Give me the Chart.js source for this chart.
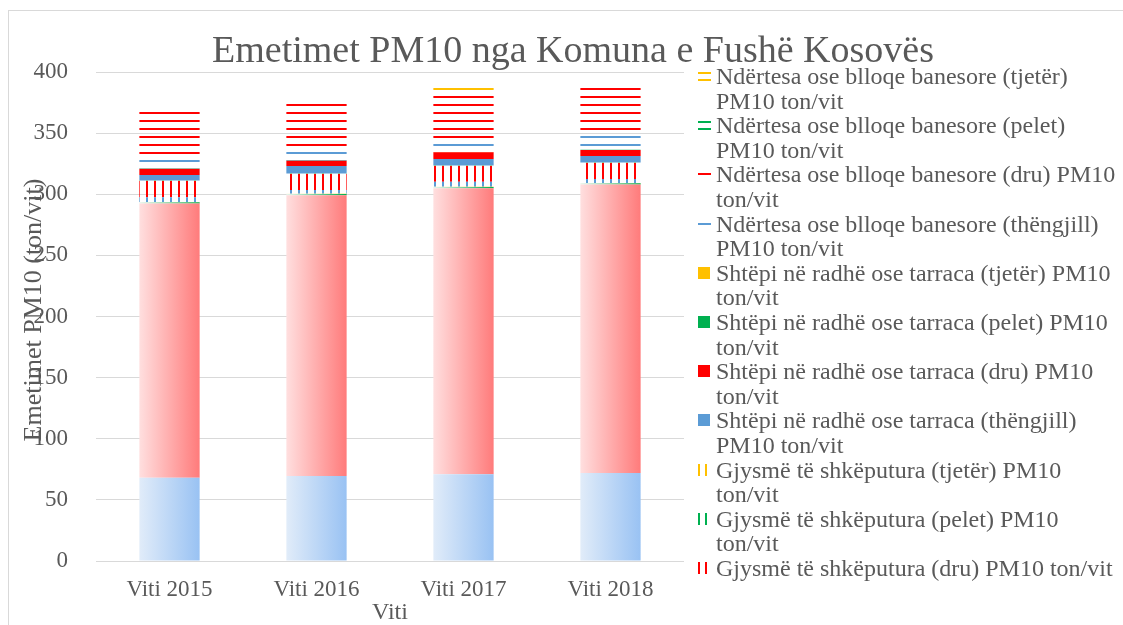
<!DOCTYPE html>
<html>
<head>
<meta charset="utf-8">
<script src="https://cdn.jsdelivr.net/npm/chart.js@4.4.0/dist/chart.umd.min.js"></script>
<style>
  html, body { margin: 0; padding: 0; background: #fff; }
  #wrap { position: relative; width: 1123px; height: 625px; overflow: hidden;
          font-family: "Liberation Serif", "Times New Roman", serif; color: #595959; }
  #frame { position: absolute; left: 8px; top: 10px; width: 1300px; height: 800px;
           border-left: 1px solid #d9d9d9; border-top: 1px solid #d9d9d9; }
  #c { position: absolute; left: 0; top: 0; }
  #legend { position: absolute; left: 697px; top: 64px; width: 421px;
            font-size: 24px; line-height: 24.6px; }
  .item { position: relative; padding-left: 19px; }
  .sw { position: absolute; left: 0; top: 5px; }
</style>
</head>
<body>
<div id="wrap">
  <div id="frame"></div>
  <canvas id="c" width="1123" height="625"></canvas>
  <div id="legend"></div>
</div>
<script>
/* Emetimet PM10 – Fushë Kosovë, shtylla të grumbulluara */

const labels = ['Viti 2015', 'Viti 2016', 'Viti 2017', 'Viti 2018'];

// Shtëpi të shkëputura
const shkThengjill = [68, 69.5, 71, 72];
const shkDru       = [224.4, 229.7, 233.9, 235.9];
const shkPelet     = [1, 1, 1, 1];
const shkTjeter    = [0.3, 0.3, 0.3, 0.3];
// Gjysmë të shkëputura
const gjThengjill  = [3.8, 3.0, 4.1, 3.3];
const gjDru        = [13.3, 13.1, 12.8, 13.1];
const gjPelet      = [0.2, 0.2, 0.2, 0.2];
const gjTjeter     = [0.2, 0.2, 0.2, 0.2];
// Shtëpi në radhë ose tarraca
const rdThengjill  = [4.5, 6.1, 5.3, 5.3];
const rdDru        = [4.9, 4.4, 5.5, 4.9];
const rdPelet      = [0.1, 0.1, 0.1, 0.1];
const rdTjeter     = [0.1, 0.1, 0.1, 0.1];
// Ndërtesa ose blloqe banesore
const ndThengjill  = [9.7, 9.3, 9.1, 13.7];
const ndPelet      = [0.3, 0.3, 0.3, 0.3];
const ndDru        = [37.3, 37.4, 39.1, 37.1];
const ndTjeter     = [3.5, 3.5, 4.5, 3.5];

const TXT  = '#595959';
const GRID = '#d9d9d9';
const FONT = '"Liberation Serif", "Times New Roman", serif';
const BLUE = '#5b9bd5', RED = '#ff0000', GREEN = '#00b050', ORANGE = '#ffc000';
const BAR_PCT = 0.41;

/* ── pattern tiles (aligned to canvas origin) ── */
function tile(color, dir) {
  const t = document.createElement('canvas');
  t.width = 8; t.height = 8;
  const g = t.getContext('2d');
  g.fillStyle = color;
  if (dir === 'h') g.fillRect(0, 0, 8, 2);
  else g.fillRect(2, 0, 2, 8);
  return g.createPattern(t, 'repeat');
}

/* ── horizontal gradient across each bar ── */
function hGrad(c0, c1) {
  return ctx => {
    const chart = ctx.chart;
    const xs = chart.scales.x;
    if (!xs || !chart.chartArea || ctx.type !== 'data') return c1;
    const cx = xs.getPixelForValue(ctx.dataIndex);
    const w = xs.width / labels.length * BAR_PCT;
    const g = chart.ctx.createLinearGradient(cx - w / 2, 0, cx + w / 2, 0);
    g.addColorStop(0, c0);
    g.addColorStop(1, c1);
    return g;
  };
}

const ds = (label, data, bg, sw) => ({ label, data, backgroundColor: bg, borderWidth: 0, sw });

const datasets = [
  ds('Shtëpi të shkëputura (thëngjill) PM10 ton/vit', shkThengjill, hGrad('#e1ecf9', '#99c2f3'), { k: 's', c: BLUE }),
  ds('Shtëpi të shkëputura (dru) PM10 ton/vit',       shkDru,       hGrad('#ffdfdf', '#ff7b7b'), { k: 's', c: RED }),
  ds('Shtëpi të shkëputura (pelet) PM10 ton/vit',     shkPelet,     hGrad('#e6f5ec', '#00b050'), { k: 's', c: GREEN }),
  ds('Shtëpi të shkëputura (tjetër) PM10 ton/vit',    shkTjeter,    hGrad('#fff3d0', '#ffc000'), { k: 's', c: ORANGE }),
  ds('Gjysmë të shkëputura (thëngjill) PM10 ton/vit', gjThengjill,  tile(BLUE, 'v'),   { k: 'v', c: BLUE }),
  ds('Gjysmë të shkëputura (dru) PM10 ton/vit',       gjDru,        tile(RED, 'v'),    { k: 'v', c: RED }),
  ds('Gjysmë të shkëputura (pelet) PM10 ton/vit',     gjPelet,      tile(GREEN, 'v'),  { k: 'v', c: GREEN }),
  ds('Gjysmë të shkëputura (tjetër) PM10 ton/vit',    gjTjeter,     tile(ORANGE, 'v'), { k: 'v', c: ORANGE }),
  ds('Shtëpi në radhë ose tarraca (thëngjill) PM10 ton/vit', rdThengjill, BLUE,   { k: 's', c: BLUE }),
  ds('Shtëpi në radhë ose tarraca (dru) PM10 ton/vit',       rdDru,       RED,    { k: 's', c: RED }),
  ds('Shtëpi në radhë ose tarraca (pelet) PM10 ton/vit',     rdPelet,     GREEN,  { k: 's', c: GREEN }),
  ds('Shtëpi në radhë ose tarraca (tjetër) PM10 ton/vit',    rdTjeter,    ORANGE, { k: 's', c: ORANGE }),
  ds('Ndërtesa ose blloqe banesore (thëngjill) PM10 ton/vit', ndThengjill, tile(BLUE, 'h'),   { k: 'h', c: BLUE, n: 1 }),
  ds('Ndërtesa ose blloqe banesore (dru) PM10 ton/vit',       ndDru,       tile(RED, 'h'),    { k: 'h', c: RED, n: 1 }),
  ds('Ndërtesa ose blloqe banesore (pelet) PM10 ton/vit',     ndPelet,     tile(GREEN, 'h'),  { k: 'h', c: GREEN, n: 2 }),
  ds('Ndërtesa ose blloqe banesore (tjetër) PM10 ton/vit',    ndTjeter,    tile(ORANGE, 'h'), { k: 'h', c: ORANGE, n: 2 }),
];

/* titles drawn straight on the canvas (Excel lets them overlap ticks/legend) */
const titlesPlugin = {
  id: 'titles',
  afterDraw(chart) {
    const { ctx } = chart;
    ctx.save();
    ctx.fillStyle = TXT;
    ctx.textAlign = 'center';
    ctx.textBaseline = 'middle';
    ctx.font = '38px ' + FONT;
    ctx.fillText('Emetimet PM10 nga Komuna e Fushë Kosovës', 573, 52);
    ctx.translate(34, 310);
    ctx.rotate(-Math.PI / 2);
    ctx.font = '26px ' + FONT;
    ctx.fillText('Emetimet PM10 (ton/vit)', 0, 0);
    ctx.restore();
  },
};

new Chart(document.getElementById('c'), {
  type: 'bar',
  data: { labels, datasets },
  options: {
    responsive: false,
    animation: false,
    datasets: { bar: { barPercentage: BAR_PCT, categoryPercentage: 1 } },
    layout: { padding: { left: 0, right: 439, top: 72, bottom: 0 } },
    plugins: { legend: { display: false }, tooltip: { enabled: false } },
    scales: {
      x: {
        stacked: true,
        grid: { display: false, drawTicks: false },
        border: { display: false },
        ticks: { color: TXT, font: { family: FONT, size: 23 }, padding: 15 },
        title: { display: true, text: 'Viti', color: TXT,
                 font: { family: FONT, size: 24, lineHeight: 1 }, padding: { top: 0, bottom: 0 } },
        afterFit: s => { s.height = 64; },
      },
      y: {
        stacked: true,
        min: 0, max: 400,
        ticks: { stepSize: 50, color: TXT, font: { family: FONT, size: 23 }, padding: 28 },
        grid: { color: GRID, lineWidth: 1, drawTicks: false },
        border: { display: false },
        afterFit: s => { s.width = 96; },
      },
    },
  },
  plugins: [titlesPlugin],
});

/* ── HTML legend: Excel shows only the last 11 series, top series first ── */
const legendEl = document.getElementById('legend');
for (let i = datasets.length - 1; i >= 5; i--) {
  const d = datasets[i];
  const item = document.createElement('div');
  item.className = 'item';
  const sw = document.createElement('canvas');
  sw.className = 'sw';
  sw.width = 14; sw.height = 14;
  const g = sw.getContext('2d');
  g.fillStyle = d.sw.c;
  if (d.sw.k === 's') g.fillRect(1, 1, 12, 12);
  else if (d.sw.k === 'v') { g.fillRect(1, 1, 2, 12); g.fillRect(8, 1, 2, 12); }
  else if (d.sw.n === 2) { g.fillRect(1, 3, 13, 2); g.fillRect(1, 10, 13, 2); }
  else g.fillRect(1, 6, 13, 2);
  item.appendChild(sw);
  item.appendChild(document.createTextNode(d.label));
  legendEl.appendChild(item);
}
</script>
</body>
</html>
